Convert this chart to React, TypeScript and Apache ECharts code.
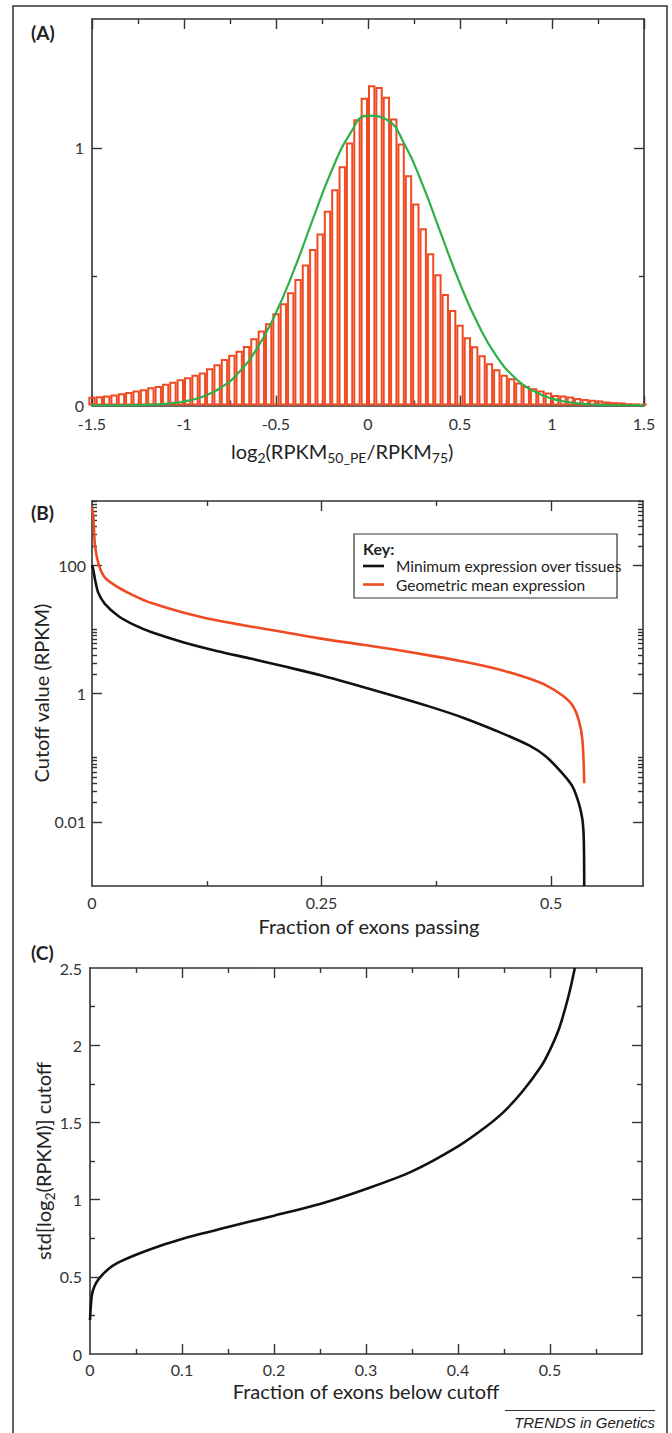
import React, { useEffect, useRef } from 'react';
import * as echarts from 'echarts';

// ---------- Panel A: histogram of log2(RPKM50_PE/RPKM75) ----------
const binCenters = [
  -1.50, -1.46, -1.42, -1.38, -1.34, -1.30, -1.26, -1.22, -1.18, -1.14,
  -1.10, -1.06, -1.02, -0.98, -0.94, -0.90, -0.86, -0.82, -0.78, -0.74,
  -0.70, -0.66, -0.62, -0.58, -0.54, -0.50, -0.46, -0.42, -0.38, -0.34,
  -0.30, -0.26, -0.22, -0.18, -0.14, -0.10, -0.06, -0.02,
  0.02, 0.06, 0.10, 0.14, 0.18, 0.22, 0.26, 0.30, 0.34, 0.38,
  0.42, 0.46, 0.50, 0.54, 0.58, 0.62, 0.66, 0.70, 0.74, 0.78,
  0.82, 0.86, 0.90, 0.94, 0.98, 1.02, 1.06, 1.10, 1.14, 1.18,
  1.22, 1.26, 1.30, 1.34, 1.38, 1.42, 1.46, 1.50,
];
const binHeights = [
  0.034, 0.036, 0.039, 0.043, 0.048, 0.052, 0.058, 0.063, 0.071, 0.076,
  0.084, 0.092, 0.102, 0.110, 0.119, 0.128, 0.145, 0.160, 0.180, 0.197,
  0.212, 0.231, 0.261, 0.291, 0.319, 0.358, 0.397, 0.440, 0.491, 0.547,
  0.607, 0.668, 0.756, 0.839, 0.929, 1.021, 1.111, 1.194,
  1.243, 1.236, 1.198, 1.114, 1.017, 0.894, 0.784, 0.688, 0.591, 0.509,
  0.433, 0.371, 0.313, 0.265, 0.230, 0.195, 0.164, 0.141, 0.119, 0.106,
  0.089, 0.076, 0.067, 0.058, 0.050, 0.041, 0.039, 0.035, 0.029, 0.025,
  0.022, 0.019, 0.016, 0.013, 0.012, 0.009, 0.008, 0.007,
];
const fitX = [
  -1.5, -1.4, -1.3, -1.2, -1.1, -1.0, -0.9, -0.8, -0.7, -0.6, -0.5, -0.4, -0.3, -0.2, -0.1,
  0.0, 0.1, 0.2, 0.3, 0.4, 0.5, 0.6, 0.7, 0.8, 0.9, 1.0, 1.1, 1.2, 1.3, 1.4, 1.5,
];
const fitY = [
  0.0001, 0.0003, 0.0009, 0.0025, 0.0065, 0.0155, 0.034, 0.069, 0.130, 0.225, 0.360, 0.530, 0.722, 0.907, 1.052,
  1.125, 1.110, 1.012, 0.851, 0.660, 0.473, 0.313, 0.190, 0.107, 0.056, 0.0266, 0.0118, 0.0048, 0.0018, 0.0006, 0.0002,
];
const aXMajor = [-1.5, -1, -0.5, 0, 0.5, 1, 1.5];
const aXMinor = [-1.25, -0.75, -0.25, 0.25, 0.75, 1.25];
const aYMajor = [1];
const aYMinor = [0.5];
const aYLabels = [0, 1];

// ---------- Panel B: cutoff curves (log scale) ----------
const minExpX = [0, 0.0014, 0.0033, 0.0069, 0.014, 0.029, 0.047, 0.065, 0.101, 0.137, 0.174, 0.21, 0.25,
  0.295, 0.331, 0.367, 0.404, 0.44, 0.476, 0.494, 0.512, 0.523, 0.530, 0.534, 0.5355, 0.536];
const minExpY = [100, 85, 60, 37, 25, 16, 11.5, 9, 6.2, 4.57, 3.47, 2.63, 1.905,
  1.26, 0.90, 0.63, 0.42, 0.263, 0.155, 0.105, 0.0575, 0.036, 0.0197, 0.0109, 0.0054, 0.001];
const geoMeanX = [0, 0.0014, 0.0033, 0.0075, 0.0141, 0.0286, 0.0467, 0.0649, 0.101, 0.137, 0.174, 0.21, 0.246,
  0.295, 0.331, 0.367, 0.404, 0.44, 0.476, 0.494, 0.512, 0.523, 0.530, 0.534, 0.536];
const geoMeanY = [800, 580, 200, 100, 64, 45, 33, 25.7, 18, 13.7, 11, 9, 7.3,
  5.75, 4.8, 3.93, 3.16, 2.44, 1.71, 1.35, 0.94, 0.66, 0.385, 0.19, 0.04];
const bXMajor = [0.25, 0.5];
const bXMinor = [0.125, 0.375];
const bXLabels = [0, 0.25, 0.5];
const bYMajor = [0.01, 1, 100];
const bYMinor = [0.02, 0.03, 0.04, 0.05, 0.06, 0.07, 0.08, 0.09, 0.1,
  2, 3, 4, 5, 6, 7, 8, 9, 10, 200, 300, 400, 500, 600, 700, 800, 900, 1000];
const bYLabels = [0.01, 1, 100];

// ---------- Panel C: std cutoff curve ----------
const stdX = [0, 0.002, 0.005, 0.01, 0.02, 0.03, 0.05, 0.075, 0.1, 0.15, 0.2, 0.25, 0.3, 0.35, 0.4,
  0.43, 0.45, 0.47, 0.49, 0.5, 0.51, 0.518, 0.523, 0.527];
const stdY = [0.22, 0.38, 0.44, 0.49, 0.55, 0.59, 0.643, 0.698, 0.745, 0.822, 0.896, 0.972, 1.069, 1.183, 1.345,
  1.47, 1.57, 1.70, 1.86, 1.97, 2.11, 2.27, 2.39, 2.5];
const cXMajor = [0.1, 0.2, 0.3, 0.4, 0.5];
const cXMinor = [0.05, 0.15, 0.25, 0.35, 0.45, 0.55];
const cXLabels = [0, 0.1, 0.2, 0.3, 0.4, 0.5];
const cYMajor = [0.5, 1, 1.5, 2];
const cYMinor = [0.25, 0.75, 1.25, 1.75, 2.25];
const cYLabels = [0, 0.5, 1, 1.5, 2, 2.5];

const AX = '#333';
const ORANGE = '#F04A23';
const GREEN = '#2DAF4A';
const FONT = 'Lato';

function sideAxes(gridIndex: number, position: string, min: number, max: number,
  major: number[], minor: number[], labels: number[] | null, fmt: any, margin: number) {
  const base: any = {
    type: 'value', gridIndex, position, min, max,
    splitLine: { show: false }, minorTick: { show: false }, axisPointer: { show: false },
  };
  const main: any = {
    ...base,
    axisLine: { show: true, onZero: false, lineStyle: { color: AX, width: 1.6 } },
    axisTick: { show: true, inside: true, length: 10, customValues: major, lineStyle: { color: AX, width: 1.4 } },
    axisLabel: labels
      ? { show: true, customValues: labels, formatter: fmt, margin, color: '#333', fontFamily: FONT, fontSize: 16, lineHeight: 14 }
      : { show: false },
  };
  const mnr: any = {
    ...base,
    axisLine: { show: false, onZero: false },
    axisTick: { show: true, inside: true, length: 5, customValues: minor, lineStyle: { color: AX, width: 1.4 } },
    axisLabel: { show: false },
  };
  return [main, mnr];
}

const plain = (v: number) => String(+Number(v).toFixed(3));
const logLbl = (v: number) => plain(Math.pow(10, Math.round(v)));
const lg = (arr: number[]) => arr.map((v) => Math.log10(v));

export default function App() {
  const ref = useRef<HTMLDivElement>(null);
  useEffect(() => {
    if (!ref.current) return;
    const chart = echarts.init(ref.current, undefined, { renderer: 'svg' });

    const xAxis: any[] = [];
    const yAxis: any[] = [];
    // Panel A
    const aX = xAxis.length;
    xAxis.push(...sideAxes(0, 'bottom', -1.5, 1.5, aXMajor, aXMinor, aXMajor, plain, 11));
    xAxis.push(...sideAxes(0, 'top', -1.5, 1.5, aXMajor, aXMinor, null, null, 8));
    const aY = yAxis.length;
    yAxis.push(...sideAxes(0, 'left', 0, 1.5, aYMajor, aYMinor, aYLabels, plain, 8));
    yAxis.push(...sideAxes(0, 'right', 0, 1.5, aYMajor, aYMinor, null, null, 8));
    // Panel B
    const bX = xAxis.length;
    xAxis.push(...sideAxes(1, 'bottom', 0, 0.6, bXMajor, bXMinor, bXLabels, plain, 9));
    xAxis.push(...sideAxes(1, 'top', 0, 0.6, bXMajor, bXMinor, null, null, 8));
    yAxis.push(...sideAxes(1, 'left', -3, 3, lg(bYMajor), lg(bYMinor), lg(bYLabels), logLbl, 6));
    yAxis.push(...sideAxes(1, 'right', -3, 3, lg(bYMajor), lg(bYMinor), null, null, 6));
    const bY = yAxis.length;
    yAxis.push({ type: 'log', logBase: 10, gridIndex: 1, position: 'left', min: 0.001, max: 1000, show: false,
      axisLine: { onZero: false }, splitLine: { show: false } });
    // Panel C
    const cX = xAxis.length;
    xAxis.push(...sideAxes(2, 'bottom', 0, 0.6, cXMajor, cXMinor, cXLabels, plain, 8));
    xAxis.push(...sideAxes(2, 'top', 0, 0.6, cXMajor, cXMinor, null, null, 6));
    const cY = yAxis.length;
    yAxis.push(...sideAxes(2, 'left', 0, 2.5, cYMajor, cYMinor, cYLabels, plain, 8));
    yAxis.push(...sideAxes(2, 'right', 0, 2.5, cYMajor, cYMinor, null, null, 8));

    const titleRich = {
      n: { fontSize: 20, fontFamily: FONT, fill: '#222', lineHeight: 26 },
      s: { fontSize: 14, fontFamily: FONT, fill: '#222', lineHeight: 14, verticalAlign: 'bottom' },
    };
    const txt = (x: number, y: number, text: string, extra: any = {}, rot = 0) => ({
      type: 'text', x, y, rotation: rot, silent: true,
      style: { text, fontFamily: FONT, fontSize: 20, fill: '#222', align: 'center', verticalAlign: 'middle', ...extra },
    });

    const graphic: any[] = [
      { type: 'rect', silent: true, z: -10, shape: { x: 13, y: 6, width: 654, height: 1450 },
        style: { fill: 'none', stroke: '#333', lineWidth: 1.5 } },
      txt(31, 32, '(A)', { fontWeight: 'bold', fontSize: 19, align: 'left' }),
      txt(31, 512, '(B)', { fontWeight: 'bold', fontSize: 19, align: 'left' }),
      txt(31, 952, '(C)', { fontWeight: 'bold', fontSize: 19, align: 'left' }),
      txt(231, 451, '{n|log}{s|2}{n|(RPKM}{s|50_PE}{n|/RPKM}{s|75}{n|)}', { align: 'left', rich: titleRich }),
      txt(369, 926, 'Fraction of exons passing'),
      txt(41, 693, 'Cutoff value (RPKM)', {}, Math.PI / 2),
      txt(366, 1391, 'Fraction of exons below cutoff'),
      txt(43, 1161, '{n|std[log}{s|2}{n|(RPKM)] cutoff}', { rich: titleRich }, Math.PI / 2),
      // legend box
      { type: 'rect', silent: true, z: 50, shape: { x: 354, y: 534, width: 263, height: 64 },
        style: { fill: '#fff', stroke: '#333', lineWidth: 1.2 } },
      { ...txt(363, 548, 'Key:', { fontWeight: 'bold', fontSize: 16, align: 'left' }), z: 51 },
      { type: 'line', silent: true, z: 51, shape: { x1: 363, y1: 566, x2: 384, y2: 566 },
        style: { stroke: '#111', lineWidth: 2.6 } },
      { ...txt(396, 566, 'Minimum expression over tissues', { fontSize: 15.5, align: 'left' }), z: 51 },
      { type: 'line', silent: true, z: 51, shape: { x1: 363, y1: 584.5, x2: 384, y2: 584.5 },
        style: { stroke: ORANGE, lineWidth: 2.6 } },
      { ...txt(396, 584.5, 'Geometric mean expression', { fontSize: 15.5, align: 'left' }), z: 51 },
      // footer
      { type: 'line', silent: true, shape: { x1: 505, y1: 1410.5, x2: 655, y2: 1410.5 },
        style: { stroke: '#333', lineWidth: 1 } },
      txt(655, 1422, 'TRENDS in Genetics', { fontFamily: 'Liberation Sans', fontStyle: 'italic', fontSize: 15, align: 'right', fill: '#222' }),
    ];

    chart.setOption({
      animation: false,
      backgroundColor: '#fff',
      grid: [
        { left: 92, top: 19, width: 552, height: 386.5, containLabel: false, outerBoundsMode: 'none' },
        { left: 92, top: 501, width: 551, height: 385, containLabel: false, outerBoundsMode: 'none' },
        { left: 90, top: 968, width: 552, height: 386, containLabel: false, outerBoundsMode: 'none' },
      ],
      xAxis,
      yAxis,
      graphic,
      series: [
        {
          type: 'bar', xAxisIndex: aX, yAxisIndex: aY, silent: true, clip: true,
          barWidth: '100%',
          data: binCenters.map((c, i) => [c, binHeights[i]]),
          itemStyle: { color: 'rgba(255,255,255,0)', borderColor: ORANGE, borderWidth: 2 },
        },
        {
          type: 'line', xAxisIndex: aX, yAxisIndex: aY, silent: true, smooth: true, showSymbol: false,
          data: fitX.map((x, i) => [x, fitY[i]]),
          lineStyle: { color: GREEN, width: 2.2 },
        },
        {
          name: 'Minimum expression over tissues',
          type: 'line', xAxisIndex: bX, yAxisIndex: bY, silent: true, smooth: 0.3, showSymbol: false,
          data: minExpX.map((x, i) => [x, minExpY[i]]),
          lineStyle: { color: '#111', width: 2.6 },
        },
        {
          name: 'Geometric mean expression',
          type: 'line', xAxisIndex: bX, yAxisIndex: bY, silent: true, smooth: 0.3, showSymbol: false,
          data: geoMeanX.map((x, i) => [x, geoMeanY[i]]),
          lineStyle: { color: ORANGE, width: 2.6 },
        },
        {
          type: 'line', xAxisIndex: cX, yAxisIndex: cY, silent: true, smooth: 0.3, showSymbol: false,
          data: stdX.map((x, i) => [x, stdY[i]]),
          lineStyle: { color: '#111', width: 2.6 },
        },
      ],
    });
    return () => chart.dispose();
  }, []);
  return (
    <div ref={ref} style={{ position: 'absolute', left: 0, top: 0, width: 672, height: 1433 }} />
  );
}
